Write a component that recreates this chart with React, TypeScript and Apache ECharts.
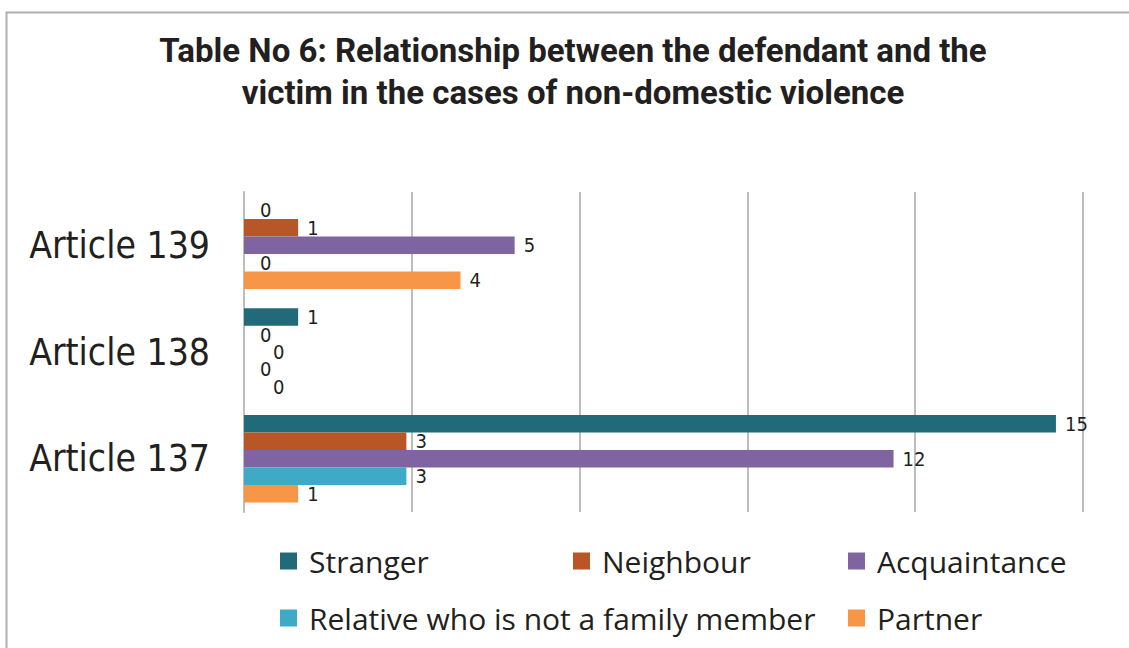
import React, { useEffect, useRef } from "react";
import * as echarts from "echarts";

const categories = ["Article 139", "Article 138", "Article 137"];
const seriesNames = [
  "Stranger",
  "Neighbour",
  "Acquaintance",
  "Relative who is not a family member",
  "Partner",
];
const stranger = [0, 1, 15];
const neighbour = [1, 0, 3];
const acquaintance = [5, 0, 12];
const relative = [0, 0, 3];
const partner = [4, 0, 1];
const colors = ["#216a7a", "#b85627", "#8064a2", "#3eaac6", "#f79646"];

const titleLines = [
  "Table No 6: Relationship between the defendant and the",
  "victim in the cases of non-domestic violence",
];

export default function App() {
  const ref = useRef<HTMLDivElement>(null);
  useEffect(() => {
    if (!ref.current) return;
    const chart = echarts.init(ref.current, null, { renderer: "svg" });
    const values = [stranger, neighbour, acquaintance, relative, partner];
    const legendPos = [
      { left: 280, top: 544 },
      { left: 573, top: 544 },
      { left: 848, top: 544 },
      { left: 280, top: 601 },
      { left: 848, top: 601 },
    ];
    const condensed = "Liberation Sans Narrow, DejaVu Sans Condensed, sans-serif";
    chart.setOption({
      animation: false,
      backgroundColor: "#ffffff",
      graphic: [
        {
          type: "rect",
          shape: { x: 6.5, y: 12.5, width: 1200, height: 700 },
          style: { fill: "none", stroke: "#b0b0b0", lineWidth: 2 },
        },
        {
          type: "text",
          x: 573,
          y: 29,
          style: {
            text: titleLines.join("\n"),
            textAlign: "center",
            fontFamily: "Roboto",
            fontWeight: 700,
            fontSize: 33,
            lineHeight: 42,
            fill: "#231f20",
          },
        },
      ],
      legend: seriesNames.map((n, i) => ({
        data: [n],
        left: legendPos[i].left,
        top: legendPos[i].top,
        padding: 0,
        itemWidth: 17,
        itemHeight: 17,
        itemGap: 13,
        icon: "rect",
        selectedMode: false,
        textStyle: {
          fontFamily: "Open Sans",
          fontSize: 30,
          lineHeight: 34,
          color: "#231f20",
          padding: [0, 0, 0, 7],
        },
      })),
      grid: { left: 244, right: 46, top: 192, bottom: 136, outerBoundsMode: "none" },
      xAxis: {
        type: "value",
        min: 0,
        max: 15.5,
        interval: 3.1,
        axisLabel: { show: false },
        axisLine: { show: false },
        axisTick: { show: false },
        splitLine: { lineStyle: { color: "#bdbdbd", width: 2 } },
      },
      yAxis: {
        type: "category",
        data: categories,
        inverse: true,
        axisTick: { show: false },
        axisLine: { lineStyle: { color: "#bdbdbd", width: 2 } },
        axisLabel: {
          fontFamily: condensed,
          fontSize: 37,
          color: "#231f20",
          margin: 34,
        },
      },
      series: seriesNames.map((n, i) => ({
        name: n,
        type: "bar",
        data: values[i].map((v) =>
          v === 0
            ? { value: v, label: { offset: [i === 2 || i === 4 ? 20 : 7, 0] } }
            : v
        ),
        barGap: "0%",
        barCategoryGap: "18%",
        itemStyle: { color: colors[i] },
        label: {
          show: true,
          position: "right",
          distance: 9,
          fontFamily: condensed,
          fontSize: 20,
          color: "#231f20",
        },
      })),
    });
    return () => chart.dispose();
  }, []);
  return (
    <div
      ref={ref}
      style={{ position: "fixed", left: 0, top: 0, width: 1129, height: 648 }}
    />
  );
}
